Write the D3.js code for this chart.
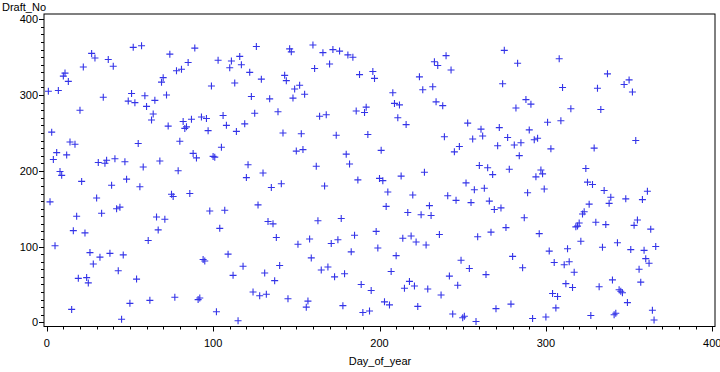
<!DOCTYPE html>
<html><head><meta charset="utf-8">
<script src="https://cdn.jsdelivr.net/npm/d3@7"></script>
<style>body{margin:0;background:#fff}svg{display:block}text{font-family:Arial,"Liberation Sans",sans-serif;font-size:11px;fill:#000}</style>
</head><body>
<script>
const draftNo = [
305,159,251,215,101,224,306,199,194,325,329,221,318,238,17,121,235,140,58,280,186,337,118,59,52,92,355,77,349,164,211,
86,144,297,210,214,347,91,181,338,216,150,68,152,4,89,212,189,292,25,302,363,290,57,236,179,365,205,299,285,
108,29,267,275,293,139,122,213,317,323,136,300,259,354,169,166,33,332,200,239,334,265,256,258,343,170,268,223,362,217,30,
32,271,83,81,269,253,147,312,219,218,14,346,124,231,273,148,260,90,336,345,62,316,252,2,351,340,74,262,191,208,
330,298,40,276,364,155,35,321,197,65,37,133,295,178,130,55,112,278,75,183,250,326,319,31,361,357,296,308,226,103,313,
249,228,301,20,28,110,85,366,335,206,134,272,69,356,180,274,73,341,104,360,60,247,109,358,137,22,64,222,353,209,
93,350,115,279,188,327,50,13,277,284,248,15,42,331,322,120,98,190,227,187,27,153,172,23,67,303,289,88,270,287,193,
111,45,261,145,54,114,168,48,106,21,324,142,307,198,102,44,154,141,311,344,291,339,116,36,286,245,352,167,61,333,11,
225,161,49,232,82,6,8,184,263,71,158,242,175,1,113,207,255,246,177,63,204,160,119,195,149,18,233,257,151,315,
359,125,244,202,24,87,234,283,342,220,237,72,138,294,171,254,288,5,241,192,243,117,201,196,176,7,264,94,229,38,79,
19,34,348,266,310,76,51,97,80,282,46,66,126,127,131,107,143,146,203,185,156,9,182,230,132,309,47,281,99,174,
129,328,157,165,56,10,12,105,43,41,39,314,163,26,320,96,304,128,240,135,70,53,162,95,84,173,78,123,16,3,100
];
const dayOfYear = draftNo.map((d,i)=>i+1);
const xTicks = [0,100,200,300,400];
const yTicks = [0,100,200,300,400];
const xLabel = "Day_of_year", yLabel = "Draft_No";

const W=720,H=372;
const svg=d3.select("body").append("svg").attr("width",W).attr("height",H);
const x=d3.scaleLinear().domain([0,400]).range([46.7,712.3]);
const y=d3.scaleLinear().domain([0,400]).range([322.3,19.3]);
const frame={l:44,t:14,r:715,b:326.5};

svg.append("rect").attr("x",frame.l).attr("y",frame.t).attr("width",frame.r-frame.l).attr("height",frame.b-frame.t)
  .attr("fill","none").attr("stroke","#000").attr("stroke-width",1);

const minor=d3.range(0,401,10);
// x ticks
svg.append("g").selectAll("line").data(minor).join("line")
  .attr("x1",d=>Math.round(x(d))+0.5).attr("x2",d=>Math.round(x(d))+0.5)
  .attr("y1",frame.b).attr("y2",d=>frame.b+(d%100===0?5:3)).attr("stroke","#000");
svg.append("g").selectAll("text").data(xTicks).join("text")
  .attr("x",d=>x(d)).attr("y",347).attr("text-anchor","middle").text(d=>d);
// y ticks
svg.append("g").selectAll("line").data(minor).join("line")
  .attr("y1",d=>Math.round(y(d))+0.5).attr("y2",d=>Math.round(y(d))+0.5)
  .attr("x1",frame.l).attr("x2",d=>frame.l-(d%100===0?5:3)).attr("stroke","#000");
svg.append("g").selectAll("text").data(yTicks).join("text")
  .attr("x",38).attr("y",d=>y(d)+4).attr("text-anchor","end").text(d=>d);

svg.append("text").attr("x",380).attr("y",365).attr("text-anchor","middle").text(xLabel);
svg.append("text").attr("x",2).attr("y",11).text(yLabel);

const s=3.5;
const pts=svg.append("g").attr("stroke","#3434e8").attr("stroke-width",1.1);
pts.selectAll("path").data(draftNo).join("path")
  .attr("d",(d,i)=>{const px=x(dayOfYear[i]),py=y(d);return `M${px-s},${py}H${px+s}M${px},${py-s}V${py+s}`;});
</script>
</body></html>
